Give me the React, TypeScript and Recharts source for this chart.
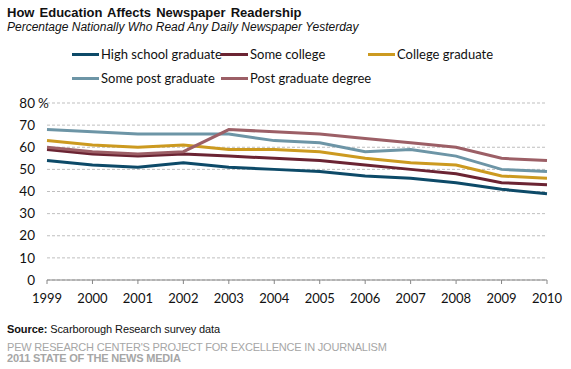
import { LineChart, Line, XAxis, YAxis, CartesianGrid, Legend } from "recharts";

const YEARS = ["1999", "2000", "2001", "2002", "2003", "2004", "2005", "2006", "2007", "2008", "2009", "2010"];
const HIGH_SCHOOL = [54, 52, 51, 53, 51, 50, 49, 47, 46, 44, 41, 39];
const SOME_COLLEGE = [59, 57, 56, 57, 56, 55, 54, 52, 50, 48, 44, 43];
const COLLEGE_GRAD = [63, 61, 60, 61, 59, 59, 58, 55, 53, 52, 47, 46];
const SOME_POST_GRAD = [68, 67, 66, 66, 66, 63, 62, 58, 59, 56, 50, 49];
const POST_GRAD_DEGREE = [60, 58, 57, 58, 68, 67, 66, 64, 62, 60, 55, 54];
const Y_TICKS = [0, 10, 20, 30, 40, 50, 60, 70, 80];

const SERIES = [
  { key: "hs", name: "High school graduate", values: HIGH_SCHOOL, color: "#0d4a68" },
  { key: "sc", name: "Some college", values: SOME_COLLEGE, color: "#6b2433" },
  { key: "cg", name: "College graduate", values: COLLEGE_GRAD, color: "#cc9a20" },
  { key: "spg", name: "Some post graduate", values: SOME_POST_GRAD, color: "#6d95a6" },
  { key: "pgd", name: "Post graduate degree", values: POST_GRAD_DEGREE, color: "#9c5f66" },
];

const data = YEARS.map((year, i) => {
  const row: Record<string, string | number> = { year };
  SERIES.forEach((s) => (row[s.key] = s.values[i]));
  return row;
});

const TICK_FONT = "Lato, 'Open Sans', sans-serif";

function YTick({ x, y, payload }: any) {
  return (
    <g>
      <text x={x} y={y} dy="0.35em" textAnchor="end" fontSize={13.5} fontFamily={TICK_FONT} fill="#111">
        {payload.value}
      </text>
      {payload.value === 80 && (
        <text x={x + 3} y={y} dy="0.35em" textAnchor="start" fontSize={13.5} fontFamily={TICK_FONT} fill="#111">
          %
        </text>
      )}
    </g>
  );
}

function LegendBox() {
  return (
    <div
      style={{
        display: "grid",
        gridTemplateColumns: "149px 147px auto",
        rowGap: 8,
        fontFamily: TICK_FONT,
        fontSize: 13,
        color: "#111",
        whiteSpace: "nowrap",
      }}
    >
      {SERIES.map((s) => (
        <div key={s.key} style={{ display: "flex", alignItems: "center", height: 16 }}>
          <span style={{ display: "inline-block", flex: "none", width: 27, height: 3, background: s.color, marginRight: 2 }} />
          <span>{s.name}</span>
        </div>
      ))}
    </div>
  );
}

export default function App() {
  return (
    <div
      style={{
        position: "absolute",
        left: 0,
        top: 0,
        width: 571,
        height: 369,
        background: "#fff",
        fontFamily: "'Liberation Sans', Arial, sans-serif",
      }}
    >
      <div style={{ position: "absolute", left: 7, top: 5, fontSize: 13, fontWeight: "bold", lineHeight: "15px", color: "#111", wordSpacing: 1.5 }}>
        How Education Affects Newspaper Readership
      </div>
      <div style={{ position: "absolute", left: 7, top: 20, fontSize: 12, fontStyle: "italic", lineHeight: "14px", color: "#111" }}>
        Percentage Nationally Who Read Any Daily Newspaper Yesterday
      </div>

      <LineChart width={571} height={369} data={data} margin={{ top: 103, right: 24, bottom: 59, left: 0 }}>
        <CartesianGrid vertical={false} stroke="#bfbfbf" strokeDasharray="3 2" />
        <XAxis
          dataKey="year"
          stroke="#868686"
          tickSize={4}
          tickMargin={10}
          height={30}
          interval={0}
          tick={{ fontSize: 13, fontFamily: TICK_FONT, fill: "#111" }}
        />
        <YAxis
          domain={[0, 80]}
          ticks={Y_TICKS}
          interval={0}
          width={47}
          axisLine={false}
          tickLine={false}
          tickSize={0}
          tickMargin={12}
          tick={<YTick />}
        />
        <Legend
          layout="vertical"
          align="center"
          verticalAlign="middle"
          content={<LegendBox />}
          wrapperStyle={{ top: 46, left: 72, width: 480 }}
        />
        {SERIES.map((s) => (
          <Line
            key={s.key}
            dataKey={s.key}
            name={s.name}
            stroke={s.color}
            strokeWidth={3}
            dot={false}
            type="linear"
            isAnimationActive={false}
          />
        ))}
      </LineChart>

      <div style={{ position: "absolute", left: 7, top: 322, fontSize: 11, lineHeight: "14px", color: "#111", letterSpacing: -0.1 }}>
        <b>Source:</b> Scarborough Research survey data
      </div>
      <div style={{ position: "absolute", left: 7, top: 342, fontSize: 11, lineHeight: "11px", color: "#a6a6a6", letterSpacing: -0.2 }}>
        PEW RESEARCH CENTER'S PROJECT FOR EXCELLENCE IN JOURNALISM
        <br />
        <b>2011 STATE OF THE NEWS MEDIA</b>
      </div>
    </div>
  );
}
